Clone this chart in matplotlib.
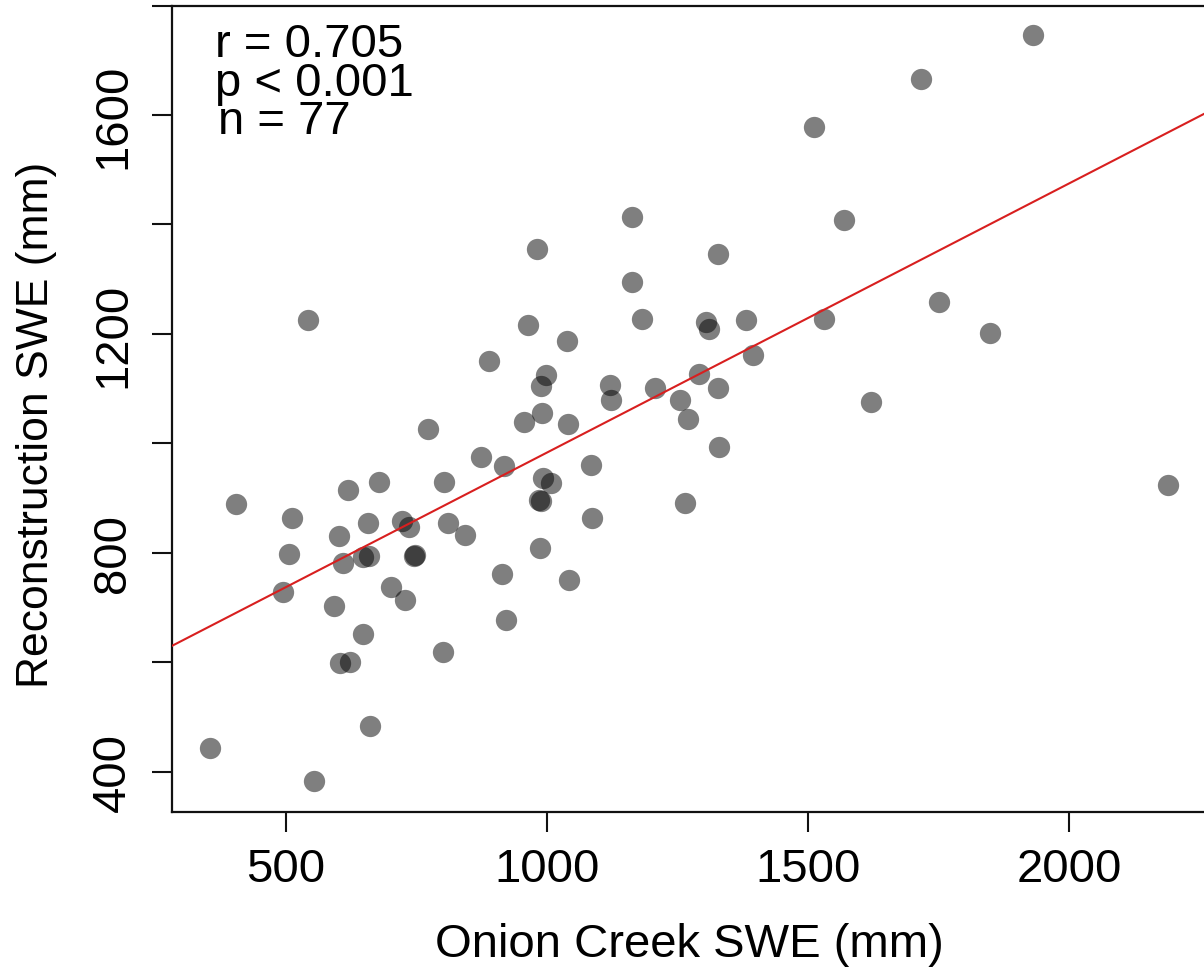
import matplotlib
matplotlib.use("Agg")
import matplotlib.pyplot as plt
import numpy as np

# Observed (Onion Creek) vs reconstructed snow water equivalent, mm
onion_creek = [
    1930, 1717, 1511, 1164, 1569, 981, 1328, 1163, 1750, 542,
    1183, 1305, 1310, 1381, 1531, 964, 1849, 1039, 1394, 889,
    1292, 998, 989, 1121, 1123, 1207, 1328, 1255, 1620, 990,
    1270, 957, 1041, 773, 1330, 1265, 2190,
    875, 919, 1084, 620, 679, 804, 993, 1009, 986, 989,
    406, 513, 1087, 657, 722, 737, 810, 602, 843, 507,
    660, 649, 746, 748, 987, 609, 914, 1043, 495, 701,
    728, 592, 921, 649, 605, 624, 802, 661, 355, 554,
]
reconstruction = [
    1746, 1665, 1578, 1414, 1408, 1355, 1346, 1295, 1259, 1225,
    1227, 1221, 1209, 1225, 1228, 1217, 1201, 1187, 1162, 1150,
    1126, 1124, 1104, 1107, 1079, 1102, 1102, 1079, 1075, 1056,
    1044, 1039, 1035, 1027, 994, 891, 924,
    975, 959, 961, 915, 929, 930, 936, 928, 897, 894,
    889, 864, 863, 855, 859, 848, 855, 831, 833, 798,
    795, 792, 794, 796, 808, 781, 761, 750, 728, 737,
    713, 702, 677, 652, 599, 601, 619, 484, 443, 383,
]

# Least-squares fit line (intercept, slope)
fit_intercept = 491.0
fit_slope = 0.492

stats_lines = ["r = 0.705", "p < 0.001", "n = 77"]

x_ticks = [500, 1000, 1500, 2000]
x_tick_labels = ["500", "1000", "1500", "2000"]
y_ticks = [400, 600, 800, 1000, 1200, 1400, 1600, 1800]
y_tick_labels = ["400", "", "800", "", "1200", "", "1600", ""]

plt.rcParams["font.family"] = ["Liberation Sans", "DejaVu Sans"]
FS = 34

W, H = 1204, 970
fig = plt.figure(figsize=(W / 100, H / 100), dpi=100)
left_px, right_px, top_px, bottom_px = 171.7, 1207.1, 6.5, 812.7
ax = fig.add_axes([left_px / W, (H - bottom_px) / H,
                   (right_px - left_px) / W, (bottom_px - top_px) / H])
ax.set_xlim(282, 2264)
ax.set_ylim(327, 1800)

ax.scatter(onion_creek, reconstruction, s=235, c="black", alpha=0.5,
           linewidths=0, zorder=2)

xs = np.array(ax.get_xlim())
ax.plot(xs, fit_intercept + fit_slope * xs, color="#d81f1f", lw=1.5, zorder=3)

for sp in ax.spines.values():
    sp.set_linewidth(1.6)
    sp.set_color("#111111")

ax.set_xticks(x_ticks)
ax.set_xticklabels(x_tick_labels)
ax.set_yticks(y_ticks)
ax.set_yticklabels(y_tick_labels, rotation=90, va="center")
ax.tick_params(direction="out", length=14.4, width=1.5, labelsize=FS,
               color="#111111")
ax.tick_params(axis="x", pad=11)
ax.tick_params(axis="y", pad=12)

ax.set_xlabel("Onion Creek SWE (mm)", fontsize=FS, va="center")
ax.xaxis.set_label_coords(0.5, (bottom_px - 945) / (bottom_px - top_px))
ax.set_ylabel("Reconstruction SWE (mm)", fontsize=32, va="center")
ax.yaxis.set_label_coords((37 - left_px) / (right_px - left_px),
                          (bottom_px - 425) / (bottom_px - top_px))

baselines = [57, 96, 134]
lefts = [215, 215, 218]
for txt, bl, lx in zip(stats_lines, baselines, lefts):
    fig.text(lx / W, 1 - bl / H, txt, fontsize=FS, ha="left", va="baseline")

fig.savefig("out.png", dpi=100)
